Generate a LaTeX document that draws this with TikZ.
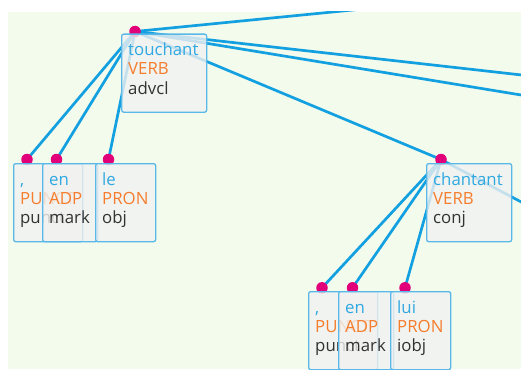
\documentclass[tikz,border=0pt]{standalone}
\usepackage{fontspec}
\setmainfont{Open Sans}
\usetikzlibrary{calc}

\definecolor{panelbg}{RGB}{243,251,236}
\definecolor{linkblue}{RGB}{18,160,224}
\definecolor{dotpink}{RGB}{226,0,122}
\definecolor{boxedge}{RGB}{90,184,232}
\definecolor{boxfill}{RGB}{241,241,241}
\definecolor{wordblue}{RGB}{48,168,226}
\definecolor{posorange}{RGB}{245,125,45}
\definecolor{relgray}{RGB}{50,50,50}

\tikzset{
  link/.style={draw=linkblue, line width=2.7pt},
  headdot/.style={circle, fill=dotpink, inner sep=0pt, minimum size=11.5pt},
  tokenbox/.style={draw=boxedge, line width=1.3pt, fill=boxfill, fill opacity=0.8,
    rounded corners=2pt, anchor=north west, inner sep=0pt, minimum height=78pt},
  tokentext/.style={anchor=base west, inner sep=0pt, font=\fontsize{16.8}{19}\selectfont},
  wordtxt/.style={tokentext, text=wordblue},
  postxt/.style={tokentext, text=posorange},
  reltxt/.style={tokentext, text=relgray},
}

% token box: name, left, top, width, form, upos, deprel
\newcommand\drawtoken[7]{%
  \node[tokenbox, minimum width=#4pt] (#1) at (#2,#3) {};
  \node[wordtxt] (#1-form) at (#2+7,#3+22) {#5};
  \node[postxt]  (#1-upos) at (#2+7,#3+41.3) {#6};
  \node[reltxt]  (#1-rel)  at (#2+7,#3+60.6) {#7};
}

\begin{document}
\begin{tikzpicture}[x=1pt, y=-1pt]
  \useasboundingbox (0,0) rectangle (521,369);
  \fill[panelbg] (8,12) rectangle (521,369);
  \begin{scope}
    \clip (8,12) rectangle (521,369);

    % head points of the tokens
    \coordinate (p-touchant) at (135,31.5);
    \coordinate (p-punct1)   at (27,159.5);
    \coordinate (p-en1)      at (56.5,159.5);
    \coordinate (p-le)       at (108.5,159.5);
    \coordinate (p-chantant) at (441,159.5);
    \coordinate (p-punct2)   at (322,287.8);
    \coordinate (p-en2)      at (352.5,287.8);
    \coordinate (p-lui)      at (405,287.8);

    % ends of arcs leaving the panel
    \coordinate (off-head)   at (535,-8);
    \coordinate (off-right1) at (560,79.3);
    \coordinate (off-right2) at (560,101.4);
    \coordinate (off-right3) at (560,222.5);

    % dependency arcs
    \draw[link] (p-touchant) -- (off-head);
    \draw[link] (p-touchant) -- (off-right1);
    \draw[link] (p-touchant) -- (off-right2);
    \draw[link] (p-touchant) -- (p-chantant);
    \draw[link] (p-touchant) -- (p-punct1);
    \draw[link] (p-touchant) -- (p-en1);
    \draw[link] (p-touchant) -- (p-le);
    \draw[link] (p-chantant) -- (off-right3);
    \draw[link] (p-chantant) -- (p-punct2);
    \draw[link] (p-chantant) -- (p-en2);
    \draw[link] (p-chantant) -- (p-lui);

    % head dots
    \foreach \t in {touchant,punct1,en1,le,chantant,punct2,en2,lui}
      \node[headdot] (dot-\t) at (p-\t) {};

    % token boxes
    \drawtoken{touchant}{121}{33.5}{85}{touchant}{VERB}{advcl}
    \drawtoken{punct1}{13}{163}{69}{,}{PUNCT}{punct}
    \drawtoken{en1}{42}{163}{55}{en}{ADP}{mark}
    \drawtoken{le}{95}{163}{60}{le}{PRON}{obj}
    \drawtoken{chantant}{426}{163}{85}{chantant}{VERB}{conj}
    \drawtoken{punct2}{308}{291}{69}{,}{PUNCT}{punct}
    \drawtoken{en2}{338}{291}{55}{en}{ADP}{mark}
    \drawtoken{lui}{390}{291}{60}{lui}{PRON}{iobj}
  \end{scope}
\end{tikzpicture}
\end{document}
